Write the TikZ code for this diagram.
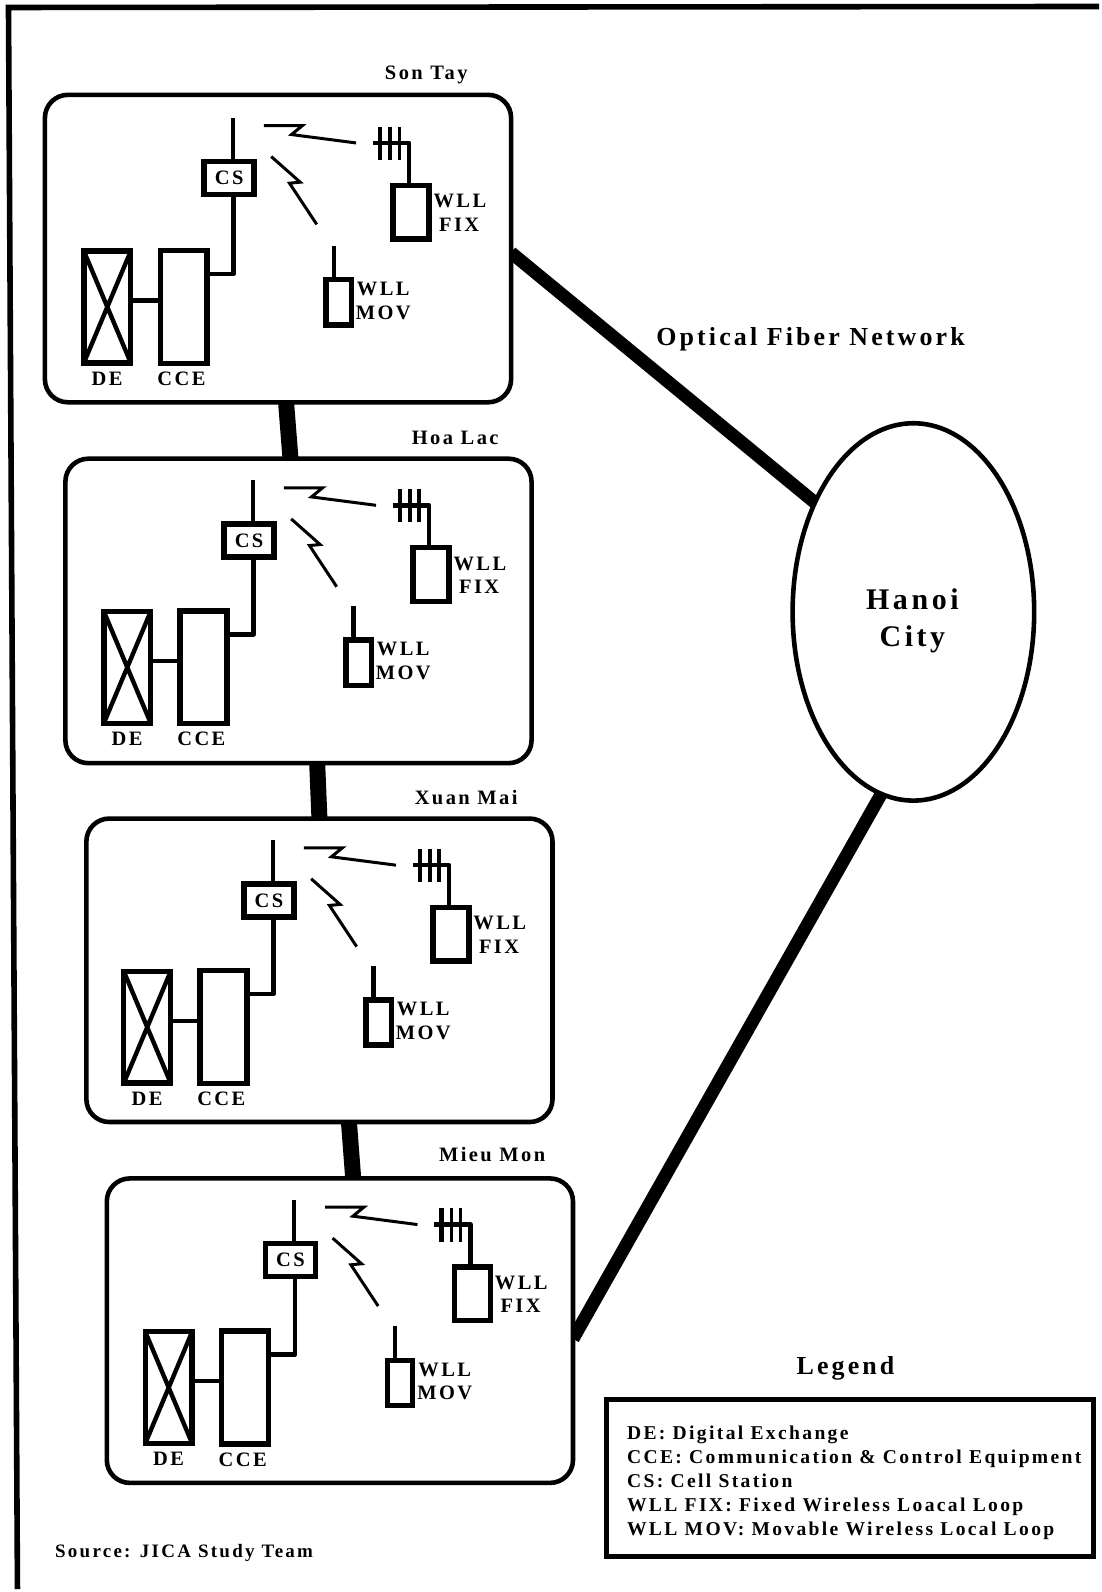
\documentclass[tikz,border=0pt]{standalone}
\usepackage{fontspec}
\setmainfont[LetterSpace=12]{Liberation Serif}
\usetikzlibrary{shapes.geometric,backgrounds}
\tikzset{
  siteframe/.style={draw=black,fill=white,line width=4.6pt,rounded corners=23pt,outer sep=0pt,inner sep=0pt},
  equip/.style={draw=black,fill=white,line width=5.4pt,outer sep=0pt,inner sep=0pt},
  wire/.style={draw=black,line width=4.4pt,line join=round},
  bolt/.style={draw=black,line width=3pt,line join=miter},
  fiber/.style={draw=black,line width=13pt},
  link/.style={draw=black,line width=16pt},
  lbl/.style={inner sep=0pt,font=\bfseries\fontsize{20.5}{24}\selectfont},
  biglbl/.style={inner sep=0pt,font=\bfseries\fontsize{26}{30}\selectfont},
}
\newcommand{\drawsite}[7]{%
  % #1 prefix, #2 #3 frame centre, #4 #5 local origin, #6 upper part shift, #7 frame height
  \node[siteframe,minimum width=467pt,minimum height=#7pt] (#1frame) at (#2,#3) {};
  \begin{scope}[shift={(#4,#5)}]
    \node[equip,minimum width=47pt,minimum height=112pt] (#1de) at (77.5,248) {};
    \draw[line width=4.4pt] (#1de.north west) -- (#1de.south east) (#1de.north east) -- (#1de.south west);
    \node[equip,minimum width=47pt,minimum height=113pt] (#1cce) at (154,248) {};
    \coordinate (#1mid) at (116,241.7);
    \draw[wire] (#1de.east |- #1mid) -- (#1cce.west |- #1mid);
    \node[equip,minimum width=25.3pt,minimum height=45.3pt] (#1mov) at (309.3,243.3) {};
    \coordinate (#1movant) at (304.3,186.7);
    \draw[wire] (#1movant) -- (#1movant |- #1mov.north);
    \node[lbl] (#1delbl) at (77.3,319.5) {DE};
    \node[lbl] (#1ccelbl) at (151.7,320) {CCE};
    \node[lbl] (#1movw) at (354,230) {WLL};
    \node[lbl] (#1movm) at (354,253.5) {MOV};
    \begin{scope}[shift={(0,#6)}]
      \node[equip,minimum width=50pt,minimum height=33pt,lbl] (#1cs) at (199.5,121) {CS\hspace{1pt}};
      \coordinate (#1ant) at (203.3,60.7);
      \draw[wire] (#1ant) -- (#1ant |- #1cs.north);
      \draw[bolt] (234.3,68.3) -- (273,68.3) -- (262,77.3) -- (326.7,85.7);
      \draw[bolt] (241.7,99.3) -- (270.7,125) -- (260,126) -- (287.3,167.3);
      \node[equip,minimum width=36pt,minimum height=53.5pt] (#1fix) at (381.7,155) {};
      \coordinate (#1fa) at (343.3,85.7);
      \coordinate (#1fb) at (380,85.7);
      \draw[wire] (#1fa) -- (#1fb) -- (#1fb |- #1fix.north);
      \draw[line width=4.4pt] (350.7,69.3) -- (350.7,102.7);
      \draw[line width=3.6pt] (360.7,69.3) -- (360.7,102.7) (370,69.3) -- (370,102.7);
      \node[lbl] (#1fixw) at (430.7,144) {WLL};
      \node[lbl] (#1fixf) at (430,167.5) {FIX};
    \end{scope}
    \coordinate (#1elbow) at (204,215);
    \draw[wire] (#1cce.east |- #1elbow) -- (#1elbow) -- (#1elbow |- #1cs.south);
  \end{scope}
}
\begin{document}
\begin{tikzpicture}[x=1pt,y=-1pt]
  \begin{scope}[on background layer]
    \path[use as bounding box,fill=white] (0,0) rectangle (1101,1592);
  \end{scope}
  % outer frame
  \coordinate (fa) at (8.5,7.5);
  \coordinate (fb) at (1101,6.5);
  \coordinate (fc) at (17.5,1592);
  \draw[line width=5.6pt,line join=miter] (fb) -- (fa) -- (fc);
  % sites
  \drawsite{st}{278.5}{249}{30}{59.5}{-2}{308}
  \drawsite{ha}{299}{612}{50}{420.5}{0}{305}
  \drawsite{xm}{320}{972}{70}{781}{0}{304}
  \drawsite{mm}{340.5}{1333}{91.5}{1142}{-1}{305}
  \node[lbl] (stname) at (427,75.5) {Son Tay};
  \node[lbl] (haname) at (456,439) {Hoa Lac};
  \node[lbl] (xmname) at (467,798.5) {Xuan Mai};
  \node[lbl] (mmname) at (493,1157) {Mieu Mon};
  % Hanoi
  \node[draw=black,fill=white,line width=4.6pt,ellipse,inner sep=0pt,outer sep=0pt,minimum width=242pt,minimum height=378pt] (hanoi) at (915,613) {};
  \node[inner sep=0pt,font=\bfseries\fontsize{30}{37}\selectfont,align=center] (hanoitxt) at (914,622) {Hanoi\\City};
  \node[biglbl] (ofn) at (812,340) {Optical Fiber Network};
  % links
  \begin{scope}[on background layer]
    \draw[fiber] (stframe.-1.5) -- (hanoi.132);
    \draw[fiber] (mmframe.-2.5) -- (hanoi.260);
    \draw[link] (stframe.-87.2) -- (haframe.93.75);
    \draw[link] (haframe.-83.3) -- (xmframe.north);
    \draw[link] (xmframe.-79.2) -- (mmframe.85.7);
  \end{scope}
  % legend
  \node[biglbl] (legendtitle) at (847,1371) {Legend};
  \node[draw=black,line width=5pt,inner sep=0pt,outer sep=0pt,minimum width=487pt,minimum height=157pt] (legendbox) at (851.5,1480.5) {};
  \node[inner sep=0pt,anchor=west,align=left,font=\bfseries\fontsize{19.6}{24}\selectfont] (legendtxt) at (628,1485) {DE: Digital Exchange\\CCE: Communication \& Control Equipment\\CS: Cell Station\\WLL FIX: Fixed Wireless Loacal Loop\\WLL MOV: Movable Wireless Local Loop};
  \node[inner sep=0pt,anchor=west,font=\bfseries\fontsize{19}{24}\selectfont] (source) at (55,1556) {Source: JICA Study Team};
\end{tikzpicture}
\end{document}
